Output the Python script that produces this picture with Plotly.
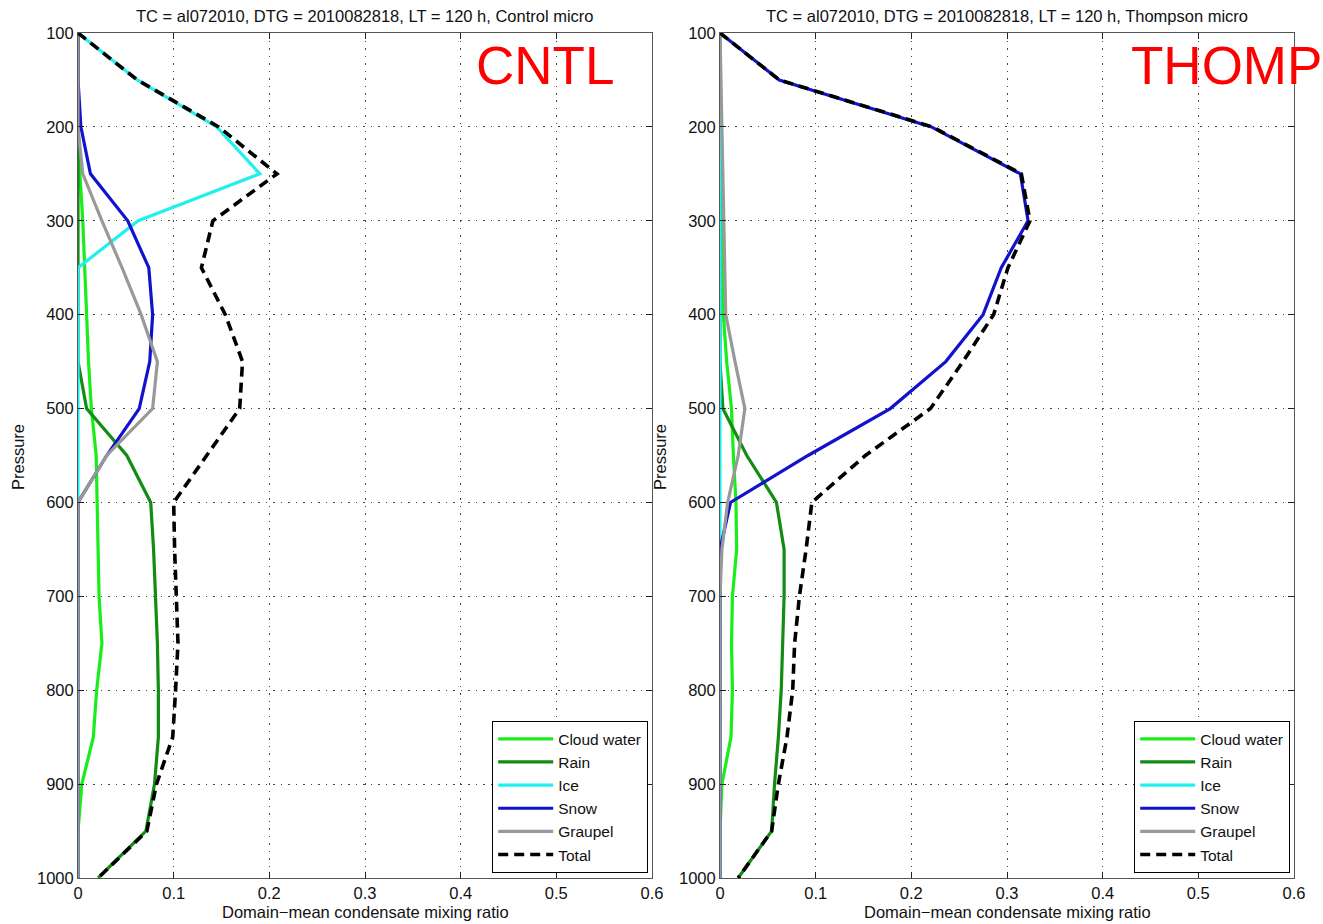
import plotly.graph_objects as go

pressure = [100, 150, 200, 250, 300, 350, 400, 450, 500, 550, 600, 650, 700, 750, 800, 850, 900, 950, 1000]

# CNTL (Control micro)
cloud_cntl = [0, 0, 0, 0.002, 0.005, 0.007, 0.009, 0.011, 0.014, 0.019, 0.020, 0.021, 0.022, 0.025, 0.0195, 0.016, 0.004, 0, 0]
rain_cntl = [0, 0, 0, 0, 0, 0, 0, 0, 0.009, 0.051, 0.076, 0.079, 0.081, 0.083, 0.084, 0.084, 0.080, 0.071, 0.021]
ice_cntl = [0, 0.062, 0.145, 0.190, 0.063, 0, 0, 0, 0, 0, 0, 0, 0, 0, 0, 0, 0, 0, 0]
snow_cntl = [0, 0, 0.003, 0.013, 0.052, 0.074, 0.078, 0.075, 0.064, 0.030, 0, 0, 0, 0, 0, 0, 0, 0, 0]
graupel_cntl = [0, 0, 0, 0.005, 0.025, 0.046, 0.066, 0.083, 0.078, 0.030, 0, 0, 0, 0, 0, 0, 0, 0, 0]
total_cntl = [0, 0.062, 0.147, 0.208, 0.141, 0.129, 0.154, 0.172, 0.169, 0.134, 0.100, 0.101, 0.103, 0.1045, 0.102, 0.099, 0.082, 0.072, 0.021]

# THOMP (Thompson micro)
cloud_th = [0, 0, 0, 0.001, 0.003, 0.003, 0.0035, 0.007, 0.012, 0.014, 0.0167, 0.0174, 0.013, 0.012, 0.013, 0.0115, 0.002, 0, 0]
rain_th = [0, 0, 0, 0, 0, 0, 0, 0, 0.003, 0.028, 0.059, 0.067, 0.067, 0.0655, 0.064, 0.061, 0.057, 0.054, 0.019]
ice_th = [0, 0, 0, 0, 0, 0, 0, 0, 0, 0, 0, 0, 0, 0, 0, 0, 0, 0, 0]
snow_th = [0, 0.062, 0.221, 0.314, 0.322, 0.294, 0.275, 0.236, 0.178, 0.092, 0.011, 0, 0, 0, 0, 0, 0, 0, 0]
graupel_th = [0, 0.001, 0.002, 0.003, 0.004, 0.005, 0.006, 0.0157, 0.026, 0.019, 0.008, 0.002, 0, 0, 0, 0, 0, 0, 0]
total_th = [0, 0.062, 0.222, 0.315, 0.324, 0.301, 0.286, 0.254, 0.220, 0.152, 0.096, 0.090, 0.083, 0.078, 0.076, 0.070, 0.061, 0.054, 0.019]

series_names = ["Cloud water", "Rain", "Ice", "Snow", "Graupel", "Total"]
colors = ["#1aee1a", "#128c12", "#22f0f0", "#1212cc", "#999999", "#000000"]

x_ticks = [0, 0.1, 0.2, 0.3, 0.4, 0.5, 0.6]
x_ticktext = ["0", "0.1", "0.2", "0.3", "0.4", "0.5", "0.6"]
y_ticks = [100, 200, 300, 400, 500, 600, 700, 800, 900, 1000]

titles = ["TC = al072010, DTG = 2010082818, LT = 120 h, Control micro",
          "TC = al072010, DTG = 2010082818, LT = 120 h, Thompson micro"]
labels = ["CNTL", "THOMP"]

W, H = 1323, 924
FONT = "Liberation Sans, Arial, sans-serif"
FS = 16.5
LFS = 15.5

fig = go.Figure()

panels = [
    [cloud_cntl, rain_cntl, ice_cntl, snow_cntl, graupel_cntl, total_cntl],
    [cloud_th, rain_th, ice_th, snow_th, graupel_th, total_th],
]
xdomains = [(78 / W, 652 / W), (720 / W, 1294 / W)]
ydomain = (1 - 878 / H, 1 - 33 / H)

for k, data in enumerate(panels):
    xa = "x" if k == 0 else "x2"
    ya = "y" if k == 0 else "y2"
    leg = "legend" if k == 0 else "legend2"
    for name, vals, col in zip(series_names, data, colors):
        is_total = name == "Total"
        fig.add_trace(go.Scatter(
            x=vals, y=pressure, mode="lines", name=name,
            line=dict(color=col, width=3.6 if is_total else 3.2,
                      dash="10px,6px" if is_total else "solid"),
            xaxis=xa, yaxis=ya, legend=leg, showlegend=True,
        ))

axis_common = dict(
    showline=True, linecolor="#555555", linewidth=1, mirror="ticks",
    ticks="inside", ticklen=6, tickcolor="#222222",
    showgrid=True, gridcolor="#444444", gridwidth=1.3, griddash="1.5px,6px",
    zeroline=False, automargin=False,
    tickfont=dict(family=FONT, size=FS, color="#111111"),
)

layout = dict(
    width=W, height=H,
    margin=dict(l=0, r=0, t=0, b=0),
    paper_bgcolor="white", plot_bgcolor="white",
    font=dict(family=FONT, size=FS, color="#111111"),
)
for k in range(2):
    sx = "" if k == 0 else "2"
    layout["xaxis" + sx] = dict(axis_common, domain=list(xdomains[k]), range=[0, 0.6],
                                tickvals=x_ticks, ticktext=x_ticktext,
                                anchor="y" + sx)
    layout["yaxis" + sx] = dict(axis_common, domain=list(ydomain), range=[1000, 100],
                                tickvals=y_ticks, anchor="x" + sx)
    legkey = "legend" if k == 0 else "legend2"
    xr = 648 / W if k == 0 else 1290 / W
    layout[legkey] = dict(
        x=xr, y=1 - 873 / H, xanchor="right", yanchor="bottom",
        bgcolor="white", bordercolor="#000000", borderwidth=1.2,
        font=dict(family=FONT, size=LFS, color="#111111"),
        itemwidth=55, tracegroupgap=0,
    )

fig.update_layout(**layout)

annotations = []
for k in range(2):
    x0, x1 = xdomains[k]
    xc = (x0 + x1) / 2
    annotations.append(dict(text=titles[k], x=xc, y=1 - 16 / H, xref="paper", yref="paper",
                            xanchor="center", yanchor="middle", showarrow=False,
                            font=dict(family=FONT, size=FS, color="#111111")))
    annotations.append(dict(text="Domain\u2212mean condensate mixing ratio", x=xc, y=1 - 912 / H,
                            xref="paper", yref="paper", xanchor="center", yanchor="middle",
                            showarrow=False, font=dict(family=FONT, size=FS, color="#111111")))
    annotations.append(dict(text="Pressure", x=(18 if k == 0 else 660) / W, y=1 - 457 / H,
                            xref="paper", yref="paper", xanchor="center", yanchor="middle",
                            textangle=-90, showarrow=False,
                            font=dict(family=FONT, size=FS, color="#111111")))
annotations.append(dict(text=labels[0], x=474 / W, y=1 - 65 / H, xref="paper", yref="paper",
                        xanchor="left", yanchor="middle", showarrow=False,
                        font=dict(family=FONT, size=53, color="#ff0000")))
annotations.append(dict(text=labels[1], x=1129 / W, y=1 - 65 / H, xref="paper", yref="paper",
                        xanchor="left", yanchor="middle", showarrow=False,
                        font=dict(family=FONT, size=53, color="#ff0000")))
fig.update_layout(annotations=annotations)

fig.write_html("out.html",
               config={"displayModeBar": False},
               post_script="document.body.style.margin='0';document.body.style.overflow='hidden';")
